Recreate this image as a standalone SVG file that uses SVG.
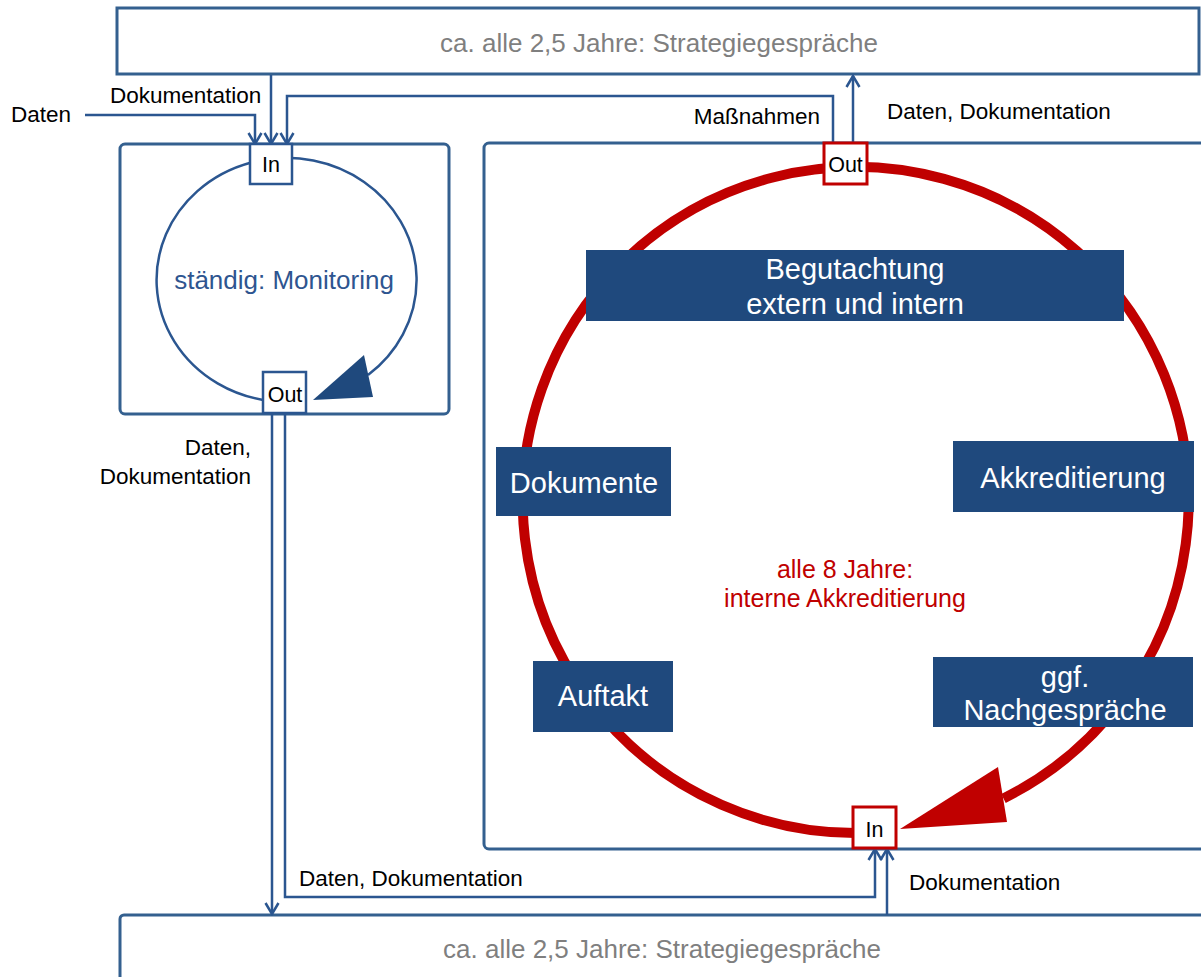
<svg xmlns="http://www.w3.org/2000/svg" width="1201" height="977" viewBox="0 0 1201 977">
<defs>
<style>
.frame{fill:#fff;stroke:#34608F;stroke-width:3}
.line{fill:none;stroke:#2B5690;stroke-width:2.5}
.port{fill:#fff;stroke:#2B5690;stroke-width:2.5}
.rport{fill:#fff;stroke:#C00000;stroke-width:3}
.task{fill:#1F497D}
.t{font-family:"Liberation Sans",Arial,sans-serif}
.lbl{font-size:22.5px;fill:#000}
.ptxt{font-size:21.5px;fill:#000;text-anchor:middle}
.title{font-size:26px;fill:#7F7F7F;text-anchor:middle}
.wt{font-size:29px;fill:#fff;text-anchor:middle}
</style>
<marker id="ah" markerUnits="userSpaceOnUse" markerWidth="16" markerHeight="16" viewBox="0 0 16 16" refX="14" refY="8" orient="auto">
<path d="M3,1.5 L14,8 L3,14.5" fill="none" stroke="#2B5690" stroke-width="2.5"/>
</marker>
</defs>
<rect width="1201" height="977" fill="#fff"/>

<g id="strategie-oben">
<rect class="frame" x="117" y="8" width="1082" height="66"/>
<text class="t title" x="659" y="52">ca. alle 2,5 Jahre: Strategiegespräche</text>
</g>

<g id="strategie-unten">
<rect class="frame" x="120" y="915" width="1100" height="80" rx="4"/>
<text class="t title" x="662" y="958">ca. alle 2,5 Jahre: Strategiegespräche</text>
</g>

<g id="monitoring">
<rect class="frame" x="120" y="144" width="329" height="270" rx="5"/>
<path d="M270,400.9 A130,122 0 1 1 368,375" fill="none" stroke="#2B5690" stroke-width="2.5"/>
<polygon points="364,355 373,397 313,400" fill="#1F497D"/>
<text class="t" x="284" y="289" font-size="26" fill="#2E5590" text-anchor="middle">ständig: Monitoring</text>
</g>

<g id="akkreditierung-zyklus">
<rect class="frame" x="484" y="143" width="740" height="706" rx="5"/>
<path d="M870,832.7 A333,333 0 1 1 1003.5,798.4" fill="none" stroke="#C00000" stroke-width="10"/>
<polygon points="900,829 998,767 1007,822" fill="#C00000"/>
<text class="t" x="845" y="578" font-size="25" fill="#C00000" text-anchor="middle">alle 8 Jahre:</text>
<text class="t" x="845" y="607" font-size="25" fill="#C00000" text-anchor="middle">interne Akkreditierung</text>
</g>

<g id="begutachtung">
<rect class="task" x="586" y="250" width="538" height="71"/>
<text class="t wt" x="855" y="279">Begutachtung</text>
<text class="t wt" x="855" y="314">extern und intern</text>
</g>
<g id="dokumente">
<rect class="task" x="496" y="447" width="175" height="69"/>
<text class="t wt" x="584" y="493">Dokumente</text>
</g>
<g id="akkreditierung">
<rect class="task" x="953" y="441" width="241" height="71"/>
<text class="t wt" x="1073" y="488">Akkreditierung</text>
</g>
<g id="auftakt">
<rect class="task" x="533" y="661" width="140" height="71"/>
<text class="t wt" x="603" y="706">Auftakt</text>
</g>
<g id="nachgespraeche">
<rect class="task" x="933" y="657" width="260" height="70"/>
<text class="t wt" x="1065" y="687">ggf.</text>
<text class="t wt" x="1065" y="720">Nachgespräche</text>
</g>

<g id="connectors">
<path class="line" d="M85,115 H255 V144" marker-end="url(#ah)"/>
<path class="line" d="M271,75 V144" marker-end="url(#ah)"/>
<path class="line" d="M833,144 V96 H287 V144" marker-end="url(#ah)"/>
<path class="line" d="M853,144 V76" marker-end="url(#ah)"/>
<path class="line" d="M272,413 V914" marker-end="url(#ah)"/>
<path class="line" d="M285,413 V897 H875 V849" marker-end="url(#ah)"/>
<path class="line" d="M887,915 V849" marker-end="url(#ah)"/>
<text class="t lbl" x="110" y="103">Dokumentation</text>
<text class="t lbl" x="11" y="122">Daten</text>
<text class="t lbl" x="820" y="124" text-anchor="end">Maßnahmen</text>
<text class="t lbl" x="887" y="119">Daten, Dokumentation</text>
<text class="t lbl" x="251" y="455" text-anchor="end">Daten,</text>
<text class="t lbl" x="251" y="484" text-anchor="end">Dokumentation</text>
<text class="t lbl" x="299" y="886">Daten, Dokumentation</text>
<text class="t lbl" x="909" y="890">Dokumentation</text>
</g>

<g id="port-monitoring-in">
<rect class="port" x="250" y="144" width="42" height="40"/>
<text class="t ptxt" x="271" y="172">In</text>
</g>
<g id="port-monitoring-out">
<rect class="port" x="263" y="372" width="43" height="41"/>
<text class="t ptxt" x="285" y="402">Out</text>
</g>
<g id="port-zyklus-out">
<rect class="rport" x="824" y="143" width="43" height="41"/>
<text class="t ptxt" x="845.5" y="172">Out</text>
</g>
<g id="port-zyklus-in">
<rect class="rport" x="853" y="807" width="43" height="41"/>
<text class="t ptxt" x="874.5" y="837">In</text>
</g>
</svg>
